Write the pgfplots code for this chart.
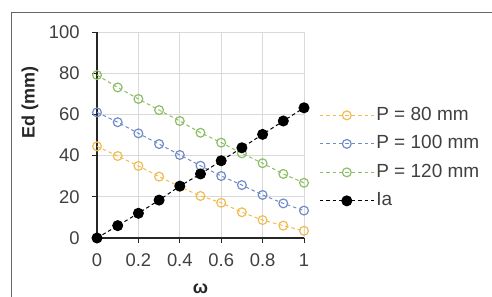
\documentclass[border=0pt]{standalone}
\usepackage{pgfplots}
\pgfplotsset{compat=1.18}
\usepackage{fontspec}
\setmainfont{Liberation Sans}
\definecolor{corange}{RGB}{240,188,80}
\definecolor{cblue}{RGB}{112,140,200}
\definecolor{cgreen}{RGB}{140,190,100}
\definecolor{cgrid}{RGB}{217,217,217}
\begin{document}
\fontsize{9}{11}\selectfont
\begin{tikzpicture}
\path[use as bounding box] (0,0) rectangle (246pt,148pt);
\draw[black!60, line width=0.5pt] (5.5pt,-10pt) -- (5.5pt,142pt) -- (260pt,142pt);
\begin{axis}[
  at={(48.5pt,29pt)}, anchor=south west,
  scale only axis, width=103.5pt, height=103pt,
  xmin=0, xmax=1, ymin=0, ymax=100,
  xtick={0,0.2,0.4,0.6,0.8,1}, ytick={0,20,40,60,80,100},
  xticklabels={0,0.2,0.4,0.6,0.8,1},
  axis lines*=left,
  axis line style={black!85, line width=0.6pt, -},
  tick align=outside, major tick length=2.5pt,
  tick style={black!85, line width=0.5pt},
  grid=major, grid style={cgrid, line width=0.5pt},
  /pgf/number format/assume math mode=true,
  ticklabel style={font=\fontsize{9.2}{11}\selectfont, text=black!75},
  yticklabel style={xshift=-3pt},
  xticklabel style={yshift=-2pt},
  ylabel={\bfseries Ed (mm)},
  ylabel style={at={(axis description cs:-0.324,0.66)}, anchor=center, font=\fontsize{9}{11}\selectfont, text=black!85},
  xlabel={\bfseries ω},
  xlabel style={at={(axis description cs:0.5,-0.245)}, anchor=center, font=\fontsize{9}{11}\selectfont, text=black!85},
  clip=false,
  legend cell align=left,
  legend style={at={(axis description cs:1.072,0.641)}, anchor=north west, draw=none, fill=none, inner sep=0pt,
    nodes={inner ysep=0pt, inner xsep=1pt, text height=7pt, text depth=2pt, font=\fontsize{9.5}{11}\selectfont, text=black!75},
    row sep=5.25pt},
  legend image code/.code={\draw[mark repeat=2,mark phase=2,#1] plot coordinates {(0pt,0pt) (13.5pt,0pt) (27pt,0pt)};},
  every axis plot/.append style={line width=0.5pt, dash pattern=on 1.8pt off 1.4pt},
]
\addplot[color=corange, mark=o, mark size=2.2pt, mark options={solid, fill=white, line width=0.6pt}] coordinates {
(0,44.5) (0.1,39.8) (0.2,35) (0.3,29.8) (0.4,24.9) (0.5,20.4) (0.6,17.1) (0.7,12.5) (0.8,8.7) (0.9,6) (1,3.5)};
\addlegendentry{P = 80 mm}
\addplot[color=cblue, mark=o, mark size=2.2pt, mark options={solid, fill=white, line width=0.6pt}] coordinates {
(0,61) (0.1,56.2) (0.2,50.8) (0.3,45.6) (0.4,40.3) (0.5,35.1) (0.6,30.1) (0.7,25.7) (0.8,20.9) (0.9,16.8) (1,13.3)};
\addlegendentry{P = 100 mm}
\addplot[color=cgreen, mark=o, mark size=2.2pt, mark options={solid, fill=white, line width=0.6pt}] coordinates {
(0,79.1) (0.1,73.1) (0.2,67.5) (0.3,62.1) (0.4,56.8) (0.5,51.1) (0.6,46.3) (0.7,41.1) (0.8,36.3) (0.9,31.1) (1,26.8)};
\addlegendentry{P = 120 mm}
\addplot[color=black, mark=*, mark size=2.5pt, mark options={solid, fill=black}] coordinates {
(0,0) (0.1,6) (0.2,12) (0.3,18.4) (0.4,25.2) (0.5,31.1) (0.6,37.5) (0.7,43.8) (0.8,50.3) (0.9,56.8) (1,63.2)};
\addlegendentry{Ia}
\end{axis}
\end{tikzpicture}
\end{document}
